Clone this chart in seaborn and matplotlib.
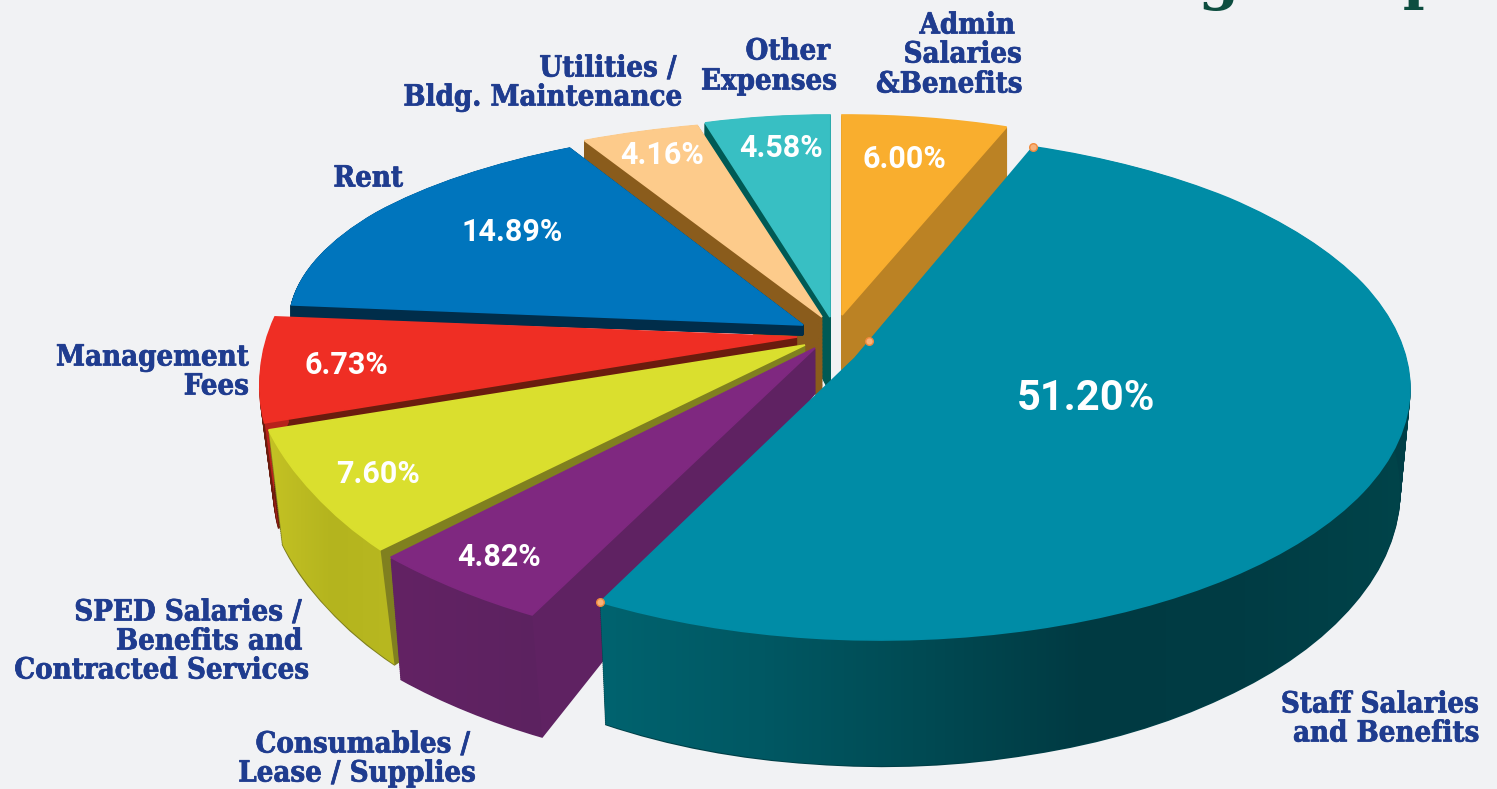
import numpy as np
import seaborn as sns
import matplotlib
matplotlib.use('Agg')
import matplotlib.pyplot as plt
import matplotlib.patheffects as pe
from matplotlib.patches import Polygon
from matplotlib.transforms import Transform

# Chart values, clockwise from the top of the big slice
categories = ['Staff', 'Consumables', 'SPED', 'Management', 'Rent', 'Utilities', 'Other', 'Admin']
percents = [51.20, 4.82, 7.60, 6.73, 14.89, 4.16, 4.58, 6.00]

top_colors = ['#008ca6', '#7f2880', '#dadf2e', '#ef2e24', '#0075bd', '#fdcb8b', '#38bfc3', '#f9ae2e']
side_colors = ['#003f47', '#5f2262', '#80801f', '#6a1c0e', '#002d4a', '#8a5c1c', '#005a55', '#bb8224']
rim_colors = [
    ['#00636f', '#005863', '#004a53', '#003a42', '#003c44', '#00444a'],
    ['#632364', '#5c2260'],
    ['#c4c224', '#b4b41e', '#b8b820'],
    ['#b7221c', '#b7221c'],
    None, None, None, None,
]

# back to front drawing order
draw_order = [7, 6, 5, 4, 3, 2, 1, 0]

# perspective of each slice: apex x, y and ellipse cx, cy, a, b for upper and lower face
top_faces = [
    (855, 358, 880, 388, 530, 252),
    (815, 348, 810, 330, 590, 323),
    (805, 345, 800, 335, 555, 328),
    (797, 337, 797, 385, 537, 290),
    (803, 325, 803, 320, 513, 193),
    (822, 317, 822, 317, 534, 197),
    (830, 317, 830, 317, 450, 202),
    (842, 315, 842, 315, 481, 200),
]
bottom_faces = [
    (855, 403, 880, 490, 520, 276),
    (815, 393, 820, 452, 590, 323),
    (805, 390, 814, 450, 555, 328),
    (797, 382, 811, 490, 537, 290),
    (803, 335, 803, 332, 513, 193),
    (822, 400, 822, 347, 534, 197),
    (830, 392, 830, 347, 450, 202),
    (842, 378, 842, 374, 481, 200),
]
phi_start = [73.2, -118.1, -139.1, -172.5, -184.5, -243.6, -253.9, -270.0]
phi_stretch = [1.058, 0.99, 0.88, 0.87, 1.09, 0.86, 0.976, 0.926]

# (text, right edge, y centre)
label_lines = [
    ('Admin', 1015, 25), ('Salaries', 1022, 54), ('&Benefits', 1022, 84),
    ('Other', 830, 51), ('Expenses', 837, 81),
    ('Utilities /', 676, 68), ('Bldg. Maintenance', 682, 97),
    ('Rent', 403, 178),
    ('Management', 249, 357), ('Fees', 249, 386),
    ('SPED Salaries /', 302, 612), ('Benefits and', 302, 641), ('Contracted Services', 309, 670),
    ('Consumables /', 470, 744), ('Lease / Supplies', 476, 773),
    ('Staff Salaries', 1479, 704), ('and Benefits', 1479, 733),
]
percent_pos = [(1086, 398), (499, 557), (378, 474), (346, 365), (512, 232), (662, 155), (781, 148), (904, 159)]
percent_size = [30, 22, 22, 22, 22, 22, 22, 22]

BG = '#f1f2f4'
LAYERS = 60


class SliceMap(Transform):
    # bends a unit pie wedge onto its slice of the tilted chart
    input_dims = 2
    output_dims = 2

    def __init__(self, i, theta_start, theta_mid, t):
        super().__init__()
        self.face = (1 - t) * np.array(top_faces[i]) + t * np.array(bottom_faces[i])
        self.i = i
        self.theta_start = theta_start
        self.theta_mid = theta_mid

    def transform_non_affine(self, xy):
        xy = np.asarray(xy, dtype=float)
        ax0, ay0, cx, cy, a, b = self.face
        r = np.hypot(xy[:, 0], xy[:, 1])
        theta = np.degrees(np.arctan2(xy[:, 1], xy[:, 0]))
        theta = (theta - self.theta_mid + 180) % 360 - 180 + self.theta_mid
        phi = np.radians(phi_start[self.i] + phi_stretch[self.i] * (theta - self.theta_start))
        ex, ey = cx + a * np.cos(phi), cy - b * np.sin(phi)
        return np.column_stack((ax0 + r * (ex - ax0), ay0 + r * (ey - ay0)))


sns.set_theme(style='white', rc={'figure.facecolor': BG, 'axes.facecolor': BG})

fig = plt.figure(figsize=(14.97, 7.89), dpi=100)
ax = fig.add_axes([0, 0, 1, 1])


def draw_pie(colors, t, z_offset):
    wedges, _ = ax.pie(percents, colors=colors, startangle=69, counterclock=False, radius=1, center=(0, 0))
    for i, w in enumerate(wedges):
        mid = (w.theta1 + w.theta2) / 2
        w.set_transform(SliceMap(i, w.theta2, mid, t) + ax.transData)
        w.set_edgecolor(w.get_facecolor())
        w.set_linewidth(1.2)
        w.set_zorder(draw_order.index(i) * 10 + z_offset)
    return wedges


# side walls as a stack of pies, lowest first
for t in np.linspace(1, 0.02, LAYERS):
    draw_pie(side_colors, t, (1 - t) * 4)

top_wedges = draw_pie(top_colors, 0, 6)

# shaded outer rims
for i, stops in enumerate(rim_colors):
    if stops is None:
        continue
    w = top_wedges[i]
    mid = (w.theta1 + w.theta2) / 2
    angles = np.radians(np.linspace(w.theta2, w.theta1, 80))
    unit = np.column_stack((np.cos(angles), np.sin(angles)))
    upper = SliceMap(i, w.theta2, mid, 0).transform_non_affine(unit)
    lower = SliceMap(i, w.theta2, mid, 1).transform_non_affine(unit)
    outline = np.vstack((upper, lower[::-1]))
    x0, x1 = outline[:, 0].min(), outline[:, 0].max()
    y0, y1 = outline[:, 1].min(), outline[:, 1].max()
    im = ax.imshow(np.linspace(0, 1, 256)[None, :], extent=(x0, x1, y1, y0), aspect='auto',
                   cmap=sns.blend_palette(stops, n_colors=256, as_cmap=True),
                   zorder=draw_order.index(i) * 10 + 5)
    im.set_clip_path(Polygon(outline, transform=ax.transData))

# small handles left on the big slice
w = top_wedges[0]
mid = (w.theta1 + w.theta2) / 2
start, end = np.radians(w.theta2), np.radians(w.theta1)
handles = np.array([[np.cos(start), np.sin(start)],
                    [0.08 * np.cos(start), 0.08 * np.sin(start)],
                    [np.cos(end), np.sin(end)]])
handles = SliceMap(0, w.theta2, mid, 0).transform_non_affine(handles)
ax.scatter(handles[:, 0], handles[:, 1], s=30, color='#f7b27a', edgecolor='#f08a3c', linewidth=1, zorder=90)

for value, (x, y), size in zip(percents, percent_pos, percent_size):
    ax.text(x, y, f'{value:.2f}%', color='white', fontsize=size, fontweight='bold', family='Roboto',
            ha='center', va='center', zorder=100)

for text, x, y in label_lines:
    ax.text(x, y, text, color='#1f3c8f', fontsize=21, fontweight='bold', family='DejaVu Serif',
            fontstretch='condensed', ha='right', va='center', zorder=100,
            path_effects=[pe.withStroke(linewidth=0.5, foreground='#1f3c8f')])

# title of the page above, cut off by the crop
ax.text(1066, -2, 'Budget Expenses', color='#0d4d3f', fontsize=42, fontweight='bold', family='DejaVu Serif',
        ha='left', va='baseline', zorder=100, clip_on=True)

ax.set_aspect('auto')
ax.set_xlim(0, 1497)
ax.set_ylim(789, 0)
ax.axis('off')
sns.despine(ax=ax, left=True, bottom=True)

fig.savefig('out.png', dpi=100)
